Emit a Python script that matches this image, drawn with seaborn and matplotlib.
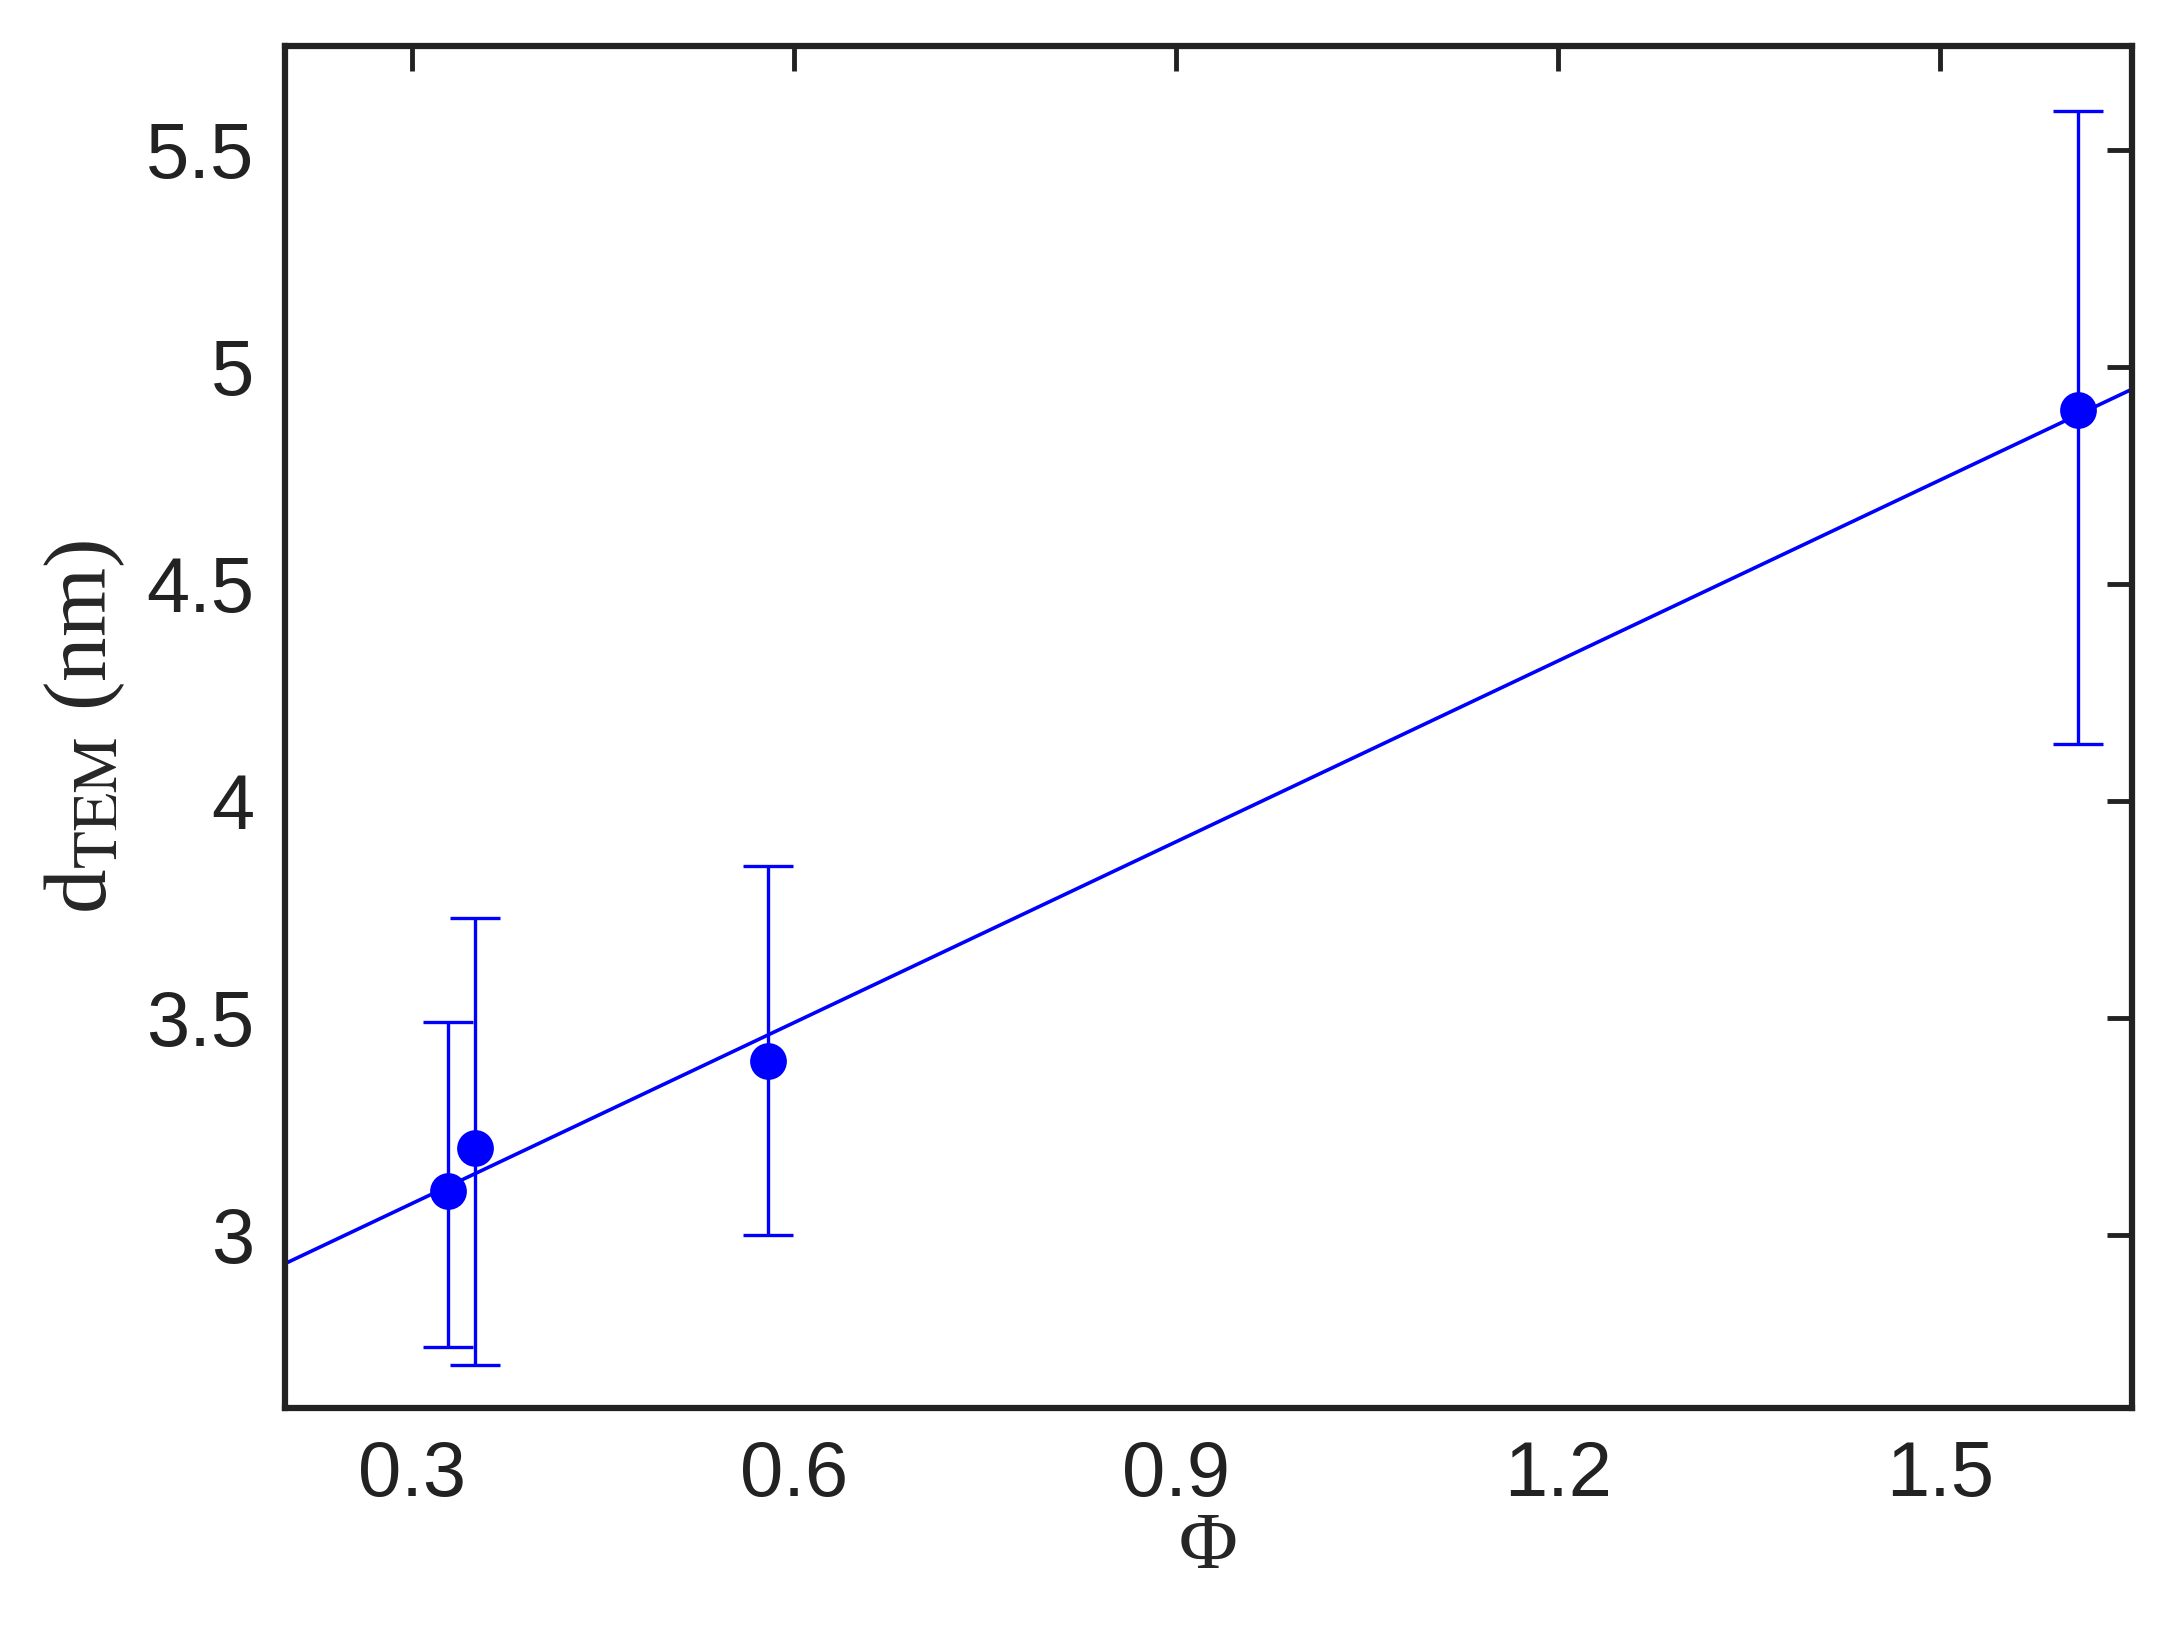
import numpy as np
import matplotlib
matplotlib.use('Agg')
import matplotlib.pyplot as plt
import seaborn as sns

# ---------------------- data ----------------------
phi = [0.328, 0.349, 0.579, 1.608]
d_tem = [3.10, 3.20, 3.40, 4.90]
err_low = [2.74, 2.70, 3.00, 4.13]
err_high = [3.49, 3.73, 3.85, 5.59]

sns.set_style('white')
plt.rcParams['font.family'] = ['Liberation Sans', 'DejaVu Sans']
plt.rcParams['mathtext.fontset'] = 'stix'

fig = plt.figure(figsize=(21.75, 16.28), dpi=100)
ax = fig.add_axes([0.131, 0.135, 0.849, 0.837])

blue = '#0000ff'

# linear fit
slope, icpt = np.polyfit(phi, d_tem, 1)
xfit = np.array([0.2, 1.65])
sns.lineplot(x=xfit, y=slope * xfit + icpt, ax=ax, color=blue, lw=2.6)

# error bars + points
yerr = [np.array(d_tem) - np.array(err_low), np.array(err_high) - np.array(d_tem)]
ax.errorbar(phi, d_tem, yerr=yerr, fmt='none', ecolor=blue, elinewidth=2.4,
            capsize=18, capthick=2.4)
sns.scatterplot(x=phi, y=d_tem, ax=ax, color=blue, s=600, edgecolor=blue, zorder=5)

ax.set_xlim(0.2, 1.65)
ax.set_ylim(2.6, 5.74)
ax.set_xticks([0.3, 0.6, 0.9, 1.2, 1.5])
ax.set_xticklabels(['0.3', '0.6', '0.9', '1.2', '1.5'])
ax.set_yticks([3, 3.5, 4, 4.5, 5, 5.5])
ax.set_yticklabels(['3', '3.5', '4', '4.5', '5', '5.5'])

ax.tick_params(direction='in', length=18, width=3.5, labelsize=56, colors='#222222',
               top=True, right=True, pad=22)
for s in ax.spines.values():
    s.set_linewidth(4.5)
    s.set_color('#222222')

ax.set_xlabel('Φ', fontsize=58, family=['Liberation Serif', 'DejaVu Serif'], labelpad=0)
ax.set_ylabel(r'd$_{\rm TEM}$ (nm)', fontsize=64, family=['Liberation Serif', 'DejaVu Serif'],
              labelpad=14)

fig.savefig('out.png', dpi=100)
